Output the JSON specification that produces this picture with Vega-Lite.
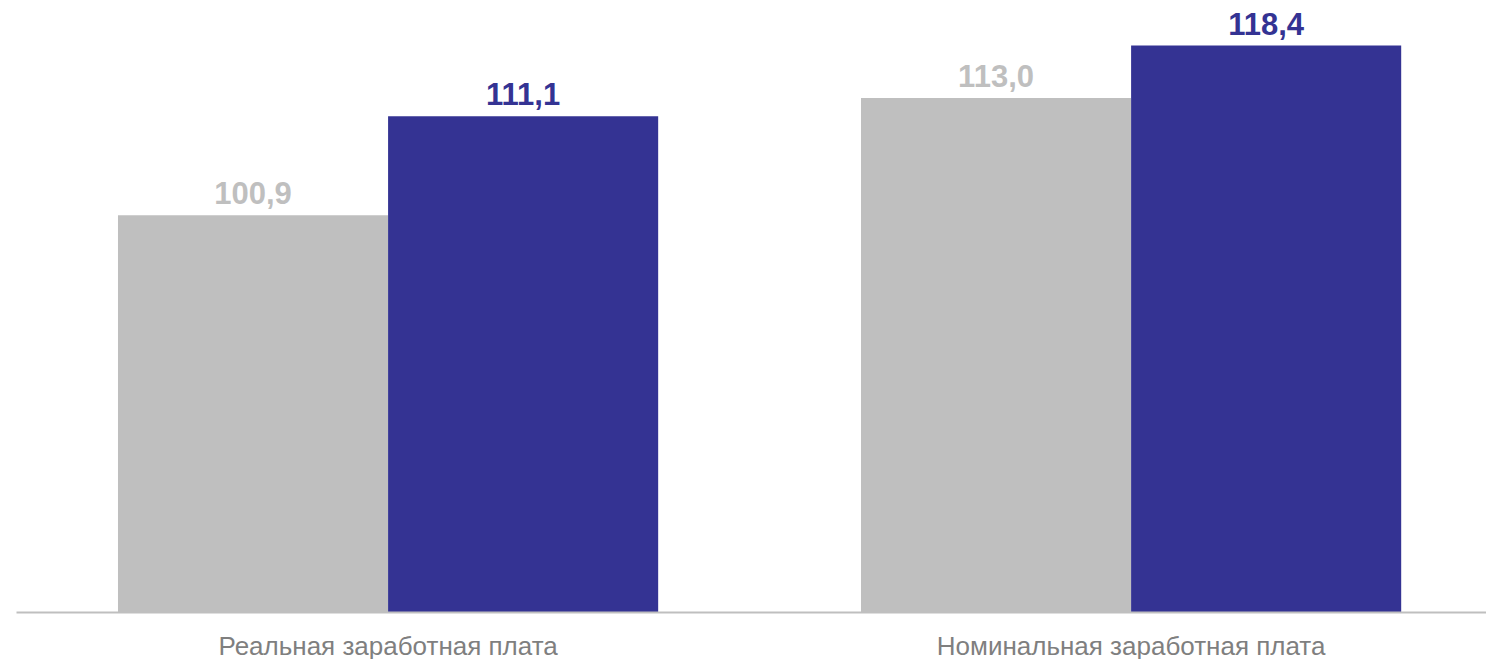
{
  "$schema": "https://vega.github.io/schema/vega-lite/v6.json",
  "autosize": "none",
  "width": 1470,
  "height": 582,
  "padding": {"top": 30, "left": 16, "right": 0, "bottom": 47},
  "background": "white",
  "data": {
    "values": [
      {"category": "Реальная заработная плата", "series": "A", "value": 100.9, "label": "100,9"},
      {"category": "Реальная заработная плата", "series": "B", "value": 111.1, "label": "111,1"},
      {"category": "Номинальная заработная плата", "series": "A", "value": 113.0, "label": "113,0"},
      {"category": "Номинальная заработная плата", "series": "B", "value": 118.4, "label": "118,4"}
    ]
  },
  "encoding": {
    "x": {
      "field": "category", "type": "nominal", "sort": null,
      "scale": {"paddingInner": 0.273, "paddingOuter": 0.1257, "align": 0.546},
      "axis": {
        "title": null, "labelAngle": 0, "ticks": false, "tickSize": 0, "labelPadding": 42, "labelLimit": 0,
        "labelBaseline": "alphabetic",
        "labelFont": "Liberation Sans", "labelFontSize": 26, "labelColor": "#7f7f7f",
        "domainColor": "#bfbfbf", "domainWidth": 2, "grid": false, "zindex": 1
      }
    },
    "xOffset": {"field": "series", "type": "nominal", "sort": null, "scale": {"paddingInner": 0, "paddingOuter": 0}},
    "y": {
      "field": "value", "type": "quantitative",
      "scale": {"domain": [60, 120], "zero": false, "nice": false},
      "axis": null
    },
    "color": {
      "field": "series", "type": "nominal",
      "scale": {"domain": ["A", "B"], "range": ["#bfbfbf", "#343393"]},
      "legend": null
    }
  },
  "layer": [
    {"mark": {"type": "bar"}, "encoding": {"y2": {"datum": 60}}},
    {
      "mark": {"type": "text", "baseline": "alphabetic", "dy": -11, "font": "Liberation Sans", "fontSize": 31, "fontWeight": "bold"},
      "encoding": {"text": {"field": "label", "type": "nominal"}}
    }
  ],
  "config": {"view": {"stroke": null}}
}
